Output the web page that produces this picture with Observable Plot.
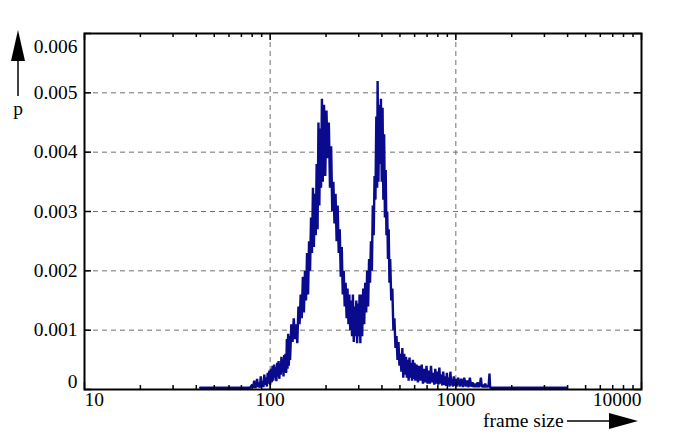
<!DOCTYPE html>
<html><head><meta charset="utf-8">
<script src="https://cdn.jsdelivr.net/npm/d3@7"></script>
<script src="https://cdn.jsdelivr.net/npm/@observablehq/plot@0.6"></script>
<style>body{margin:0;background:#fff} svg{display:block}</style>
</head><body><div id="chart"></div>
<script>
// frame sizes (bytes) and their probabilities
const frameSize = [42,60,78,
80,81,82,83,84,85,86,87,88,89,90,91,92,93,94,95,96,97,98,99,100,
101,102,103,104,105,106,107,108,109,110,111,112,113,114,115,116,117,118,119,120,121,122,123,124,125,126,127,128,
130,132,134,136,138,140,142,144,146,148,150,152,154,156,158,160,162,164,166,168,170,172,174,176,178,180,182,184,186,188,190,192,
195,198,201,204,207,210,213,216,219,222,225,228,231,234,237,240,243,246,249,252,255,258,261,264,267,270,273,276,279,282,285,288,291,294,297,300,303,306,
309,313,317,321,325,329,333,337,341,345,349,353,357,361,365,369,373,377,379,383,387,391,395,399,403,407,411,415,419,423,427,431,435,439,
443,449,455,461,467,473,479,485,491,497,503,509,515,521,527,533,539,545,551,557,563,569,575,581,587,593,599,
605,615,625,635,645,655,665,675,685,695,705,715,725,735,745,755,765,775,785,795,805,815,825,835,845,855,865,875,885,895,905,915,925,935,945,955,965,975,985,995,
1010,1030,1050,1070,1090,1110,1130,1150,1170,1190,1210,1230,1250,1270,1290,1310,1330,1350,1365,1380,1400,1420,1440,1460,1480,1500,1518,1530,3930];
const prob = [0.00003,0.00003,0.00003,
0.00008,0.00003,0.00015,0.00003,0.00005,0.00018,0.00004,0.00012,0.00003,0.00022,0.00006,0.00014,0.00004,0.00025,0.00008,0.0002,0.00005,0.00028,0.0001,0.00032,0.00008,
0.00035,0.00012,0.0004,0.00015,0.00042,0.0002,0.00038,0.00014,0.00045,0.00022,0.00048,0.00018,0.0004,0.00025,0.00055,0.0003,0.0005,0.00022,0.00058,0.0003,0.0006,0.00028,0.00085,0.00035,0.00094,0.0004,0.0009,0.0005,
0.0011,0.0008,0.0012,0.00085,0.0011,0.00078,0.0014,0.0011,0.0016,0.0012,0.0019,0.0013,0.0020,0.0015,0.0023,0.0016,0.0025,0.0020,0.0029,0.0023,0.0034,0.0024,0.0033,0.0026,0.0038,0.0027,0.0045,0.0031,0.0044,0.0034,0.0049,0.0035,
0.0048,0.0036,0.0047,0.0039,0.0045,0.0034,0.0041,0.0030,0.0035,0.0028,0.0033,0.0025,0.0031,0.0023,0.0027,0.0019,0.0024,0.0016,0.0020,0.0014,0.0018,0.0012,0.0017,0.0011,0.0016,0.0010,0.0015,0.0009,0.0016,0.0008,0.0014,0.0009,0.0015,0.00078,0.00145,0.0009,0.0016,0.00078,
0.0016,0.0009,0.0017,0.0011,0.0018,0.0013,0.0020,0.0014,0.0022,0.0018,0.0025,0.0020,0.0031,0.0026,0.0036,0.0032,0.0046,0.0034,0.0052,0.0035,0.0048,0.0038,0.0049,0.0035,0.00475,0.0032,0.0043,0.0029,0.0037,0.0026,0.0030,0.0022,0.0027,0.0018,
0.0022,0.0015,0.0017,0.0010,0.0012,0.0007,0.0009,0.0005,0.0008,0.0004,0.0006,0.0003,0.0007,0.0002,0.0006,0.00025,0.00055,0.0002,0.0005,0.00015,0.00054,0.0002,0.00045,0.00015,0.0005,0.00018,0.00045,
0.00015,0.00042,0.00012,0.0004,0.00015,0.00042,0.0001,0.00035,0.00012,0.0004,0.0001,0.00032,0.0001,0.0004,0.00012,0.00028,0.00008,0.00035,0.0001,0.0003,0.00008,0.00037,0.0001,0.00025,0.00007,0.0003,0.00008,0.00022,0.00006,0.00028,0.00008,0.0002,0.00005,0.0003,0.00007,0.00018,0.00005,0.00022,0.00006,0.00018,
0.00005,0.0002,0.00005,0.00018,0.00004,0.0002,0.00005,0.00015,0.00004,0.0002,0.00005,0.00012,0.00004,0.0001,0.00004,0.00012,0.00004,0.0001,0.0002,0.00004,0.00008,0.00004,0.0001,0.00004,0.00007,0.00004,0.00027,0.00003,0.00003];

const xMajorTicks = [10, 100, 1000, 10000];
const xTickLabels = ["10", "100", "1000", "10000"];
const xMinorTicks = [20,30,40,50,60,70,80,90,200,300,400,500,600,700,800,900,2000,3000,4000,5000,6000,7000,8000,9000];
const xGridTicks = [100, 1000];
const yTicks = [0, 0.001, 0.002, 0.003, 0.004, 0.005, 0.006];
const yTickLabels = ["0", "0.001", "0.002", "0.003", "0.004", "0.005", "0.006"];
const yGridTicks = [0.001, 0.002, 0.003, 0.004, 0.005];
const xAxisLabel = "frame size";
const yAxisLabel = "p";

const data = frameSize.map((x, i) => ({x, p: prob[i]}));
const W = 689, H = 440, mL = 84, mR = 48, mT = 33, mB = 51;
const pw = W - mL - mR, ph = H - mT - mB;
const font = "'Liberation Serif','Times New Roman',serif";
const gridStyle = {stroke: "#707070", strokeOpacity: 1, strokeWidth: 1, strokeDasharray: "5,4"};
const tickStyle = {stroke: "black", strokeWidth: 1.5};
const n = xTickLabels.length, m = yTickLabels.length;

const chart = Plot.plot({
  width: W, height: H,
  marginLeft: mL, marginRight: mR, marginTop: mT, marginBottom: mB,
  style: {fontFamily: font, fontSize: "19.5px", background: "white", color: "black"},
  x: {type: "log", domain: [10, 10000], axis: null},
  y: {domain: [0, 0.006], axis: null},
  marks: [
    Plot.gridX(xGridTicks, gridStyle),
    Plot.gridY(yGridTicks, gridStyle),
    Plot.line(data, {x: "x", y: "p", stroke: "#0a0a8c", strokeWidth: 2.4, strokeLinejoin: "miter"}),
    Plot.tickX(xMajorTicks, {x: d => d, insetTop: ph - 7, ...tickStyle}),
    Plot.tickX(xMajorTicks, {x: d => d, insetBottom: ph - 7, ...tickStyle}),
    Plot.tickX(xMinorTicks, {x: d => d, insetTop: ph - 4, ...tickStyle}),
    Plot.tickX(xMinorTicks, {x: d => d, insetBottom: ph - 4, ...tickStyle}),
    Plot.tickY(yTicks, {y: d => d, insetRight: pw - 7, ...tickStyle}),
    Plot.tickY(yTicks, {y: d => d, insetLeft: pw - 7, ...tickStyle}),
    Plot.frame({stroke: "black", strokeWidth: 2}),
    Plot.text(xTickLabels, {filter: (d, i) => i === 0, x: (d, i) => xMajorTicks[i], text: d => d, frameAnchor: "bottom", lineAnchor: "top", textAnchor: "start", dy: 3}),
    Plot.text(xTickLabels, {filter: (d, i) => i > 0 && i < n - 1, x: (d, i) => xMajorTicks[i], text: d => d, frameAnchor: "bottom", lineAnchor: "top", textAnchor: "middle", dy: 3}),
    Plot.text(xTickLabels, {filter: (d, i) => i === n - 1, x: (d, i) => xMajorTicks[i], text: d => d, frameAnchor: "bottom", lineAnchor: "top", textAnchor: "end", dy: 3}),
    Plot.text(yTickLabels, {filter: (d, i) => i === 0, y: (d, i) => yTicks[i], text: d => d, frameAnchor: "left", textAnchor: "end", dx: -7, dy: -8}),
    Plot.text(yTickLabels, {filter: (d, i) => i > 0 && i < m - 1, y: (d, i) => yTicks[i], text: d => d, frameAnchor: "left", textAnchor: "end", dx: -7}),
    Plot.text(yTickLabels, {filter: (d, i) => i === m - 1, y: (d, i) => yTicks[i], text: d => d, frameAnchor: "left", textAnchor: "end", dx: -7, dy: 13})
  ]
});

// axis-name annotations with arrows
const svg = d3.select(chart);
const ann = svg.append("g").attr("fill", "black").attr("stroke", "none");
ann.append("line").attr("x1", 18).attr("x2", 18).attr("y1", 96).attr("y2", 58).attr("stroke", "black").attr("stroke-width", 1.5);
ann.append("path").attr("d", "M18,30 L11,61 L25,61 Z");
ann.append("text").attr("x", 18).attr("y", 115).attr("text-anchor", "middle")
  .attr("font-family", font).attr("font-size", "19.5px").text(yAxisLabel);
ann.append("text").attr("x", 483).attr("y", 427).attr("text-anchor", "start")
  .attr("font-family", font).attr("font-size", "19.5px").text(xAxisLabel);
ann.append("line").attr("x1", 567).attr("x2", 612).attr("y1", 421).attr("y2", 421).attr("stroke", "black").attr("stroke-width", 1.5);
ann.append("path").attr("d", "M609,413 L638,421 L609,429 Z");

document.getElementById("chart").appendChild(chart);
</script>
</body></html>
